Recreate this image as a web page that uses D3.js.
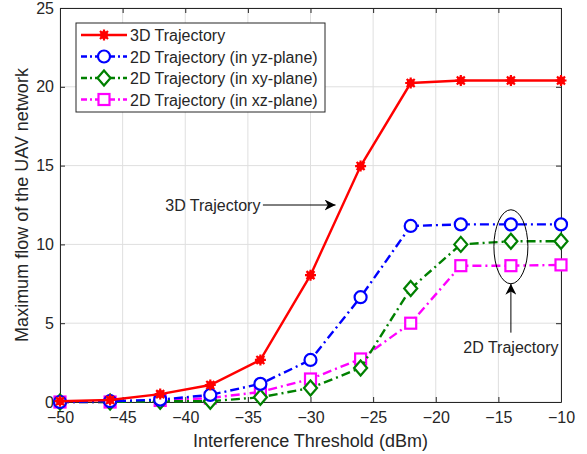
<!DOCTYPE html>
<html>
<head>
<meta charset="utf-8">
<script src="https://cdn.jsdelivr.net/npm/d3@7"></script>
<style>
  body { margin: 0; background: #fff; }
  text { font-family: "Liberation Sans", Arial, sans-serif; fill: #262626; }
</style>
</head>
<body>
<div id="chart"></div>
<script>
// threshold values (dBm)
const thresholds = [-50, -46, -42, -38, -34, -30, -26, -22, -18, -14, -10];
const traj3d = [0.05, 0.13, 0.5, 1.08, 2.67, 8.05, 14.97, 20.24, 20.4, 20.4, 20.4];
const trajYz = [0.0, 0.05, 0.15, 0.45, 1.15, 2.67, 6.65, 11.17, 11.27, 11.27, 11.27];
const trajXy = [0.0, 0.0, 0.05, 0.05, 0.3, 0.89, 2.16, 7.2, 10.0, 10.2, 10.2];
const trajXz = [0.0, 0.0, 0.1, 0.25, 0.64, 1.46, 2.73, 5.0, 8.65, 8.65, 8.7];
const xTicks = [-50, -45, -40, -35, -30, -25, -20, -15, -10];
const yTicks = [0, 5, 10, 15, 20, 25];
const seriesNames = ['3D Trajectory', '2D Trajectory (in yz-plane)',
  '2D Trajectory (in xy-plane)', '2D Trajectory (in xz-plane)'];

const W = 587, H = 454;
const margin = {top: 8, right: 26, bottom: 52, left: 60};
const width = W - margin.left - margin.right;
const height = H - margin.top - margin.bottom;

const svg = d3.select('#chart').append('svg')
    .attr('width', W).attr('height', H);
const g = svg.append('g')
    .attr('transform', 'translate(' + margin.left + ',' + margin.top + ')');

const x = d3.scaleLinear().domain([-50, -10]).range([0, width]);
const y = d3.scaleLinear().domain([0, 25]).range([height, 0]);

// grid
g.selectAll('.vgrid').data(xTicks).enter().append('line')
    .attr('x1', d => x(d)).attr('x2', d => x(d))
    .attr('y1', 0).attr('y2', height)
    .attr('stroke', '#dfdfdf').attr('stroke-width', 1);
g.selectAll('.hgrid').data(yTicks).enter().append('line')
    .attr('x1', 0).attr('x2', width)
    .attr('y1', d => y(d)).attr('y2', d => y(d))
    .attr('stroke', '#dfdfdf').attr('stroke-width', 1);

// axes (ticks inside, box style)
const axisColor = '#262626';
g.append('g').attr('transform', 'translate(0,' + height + ')')
    .call(d3.axisBottom(x).tickValues(xTicks).tickSizeInner(-5).tickSizeOuter(0).tickPadding(10));
g.append('g')
    .call(d3.axisLeft(y).tickValues(yTicks).tickSizeInner(-5).tickSizeOuter(0).tickPadding(6));
g.append('g')
    .call(d3.axisTop(x).tickValues(xTicks).tickSizeInner(-5).tickSizeOuter(0).tickFormat(''));
g.append('g').attr('transform', 'translate(' + width + ',0)')
    .call(d3.axisRight(y).tickValues(yTicks).tickSizeInner(-5).tickSizeOuter(0).tickFormat(''));
g.selectAll('.domain, .tick line').attr('stroke', axisColor);
g.selectAll('.tick text').attr('font-size', 16).attr('fill', axisColor)
    .attr('font-family', '"Liberation Sans", Arial, sans-serif');

svg.append('text')
    .attr('x', margin.left + width / 2).attr('y', 447)
    .attr('text-anchor', 'middle').attr('font-size', 18)
    .text('Interference Threshold (dBm)');
svg.append('text')
    .attr('transform', 'translate(28,' + (margin.top + height / 2) + ') rotate(-90)')
    .attr('text-anchor', 'middle').attr('font-size', 18)
    .text('Maximum flow of the UAV network');

const series = [
  {name: seriesNames[0], values: traj3d, color: '#ff0000', dash: null, marker: 'star'},
  {name: seriesNames[1], values: trajYz, color: '#0000ff', dash: '9,4,2,4', marker: 'circle'},
  {name: seriesNames[2], values: trajXy, color: '#008000', dash: '9,4,2,4', marker: 'diamond'},
  {name: seriesNames[3], values: trajXz, color: '#ff00ff', dash: '9,4,2,4', marker: 'square'}
];

function drawMarker(sel, type, color) {
  if (type === 'circle') {
    sel.append('circle').attr('r', 6)
      .attr('fill', '#fff').attr('stroke', color).attr('stroke-width', 2.2);
  } else if (type === 'diamond') {
    sel.append('path').attr('d', 'M0,-7.5L6.5,0L0,7.5L-6.5,0Z')
      .attr('fill', '#fff').attr('stroke', color).attr('stroke-width', 2.2);
  } else if (type === 'square') {
    sel.append('rect').attr('x', -5.5).attr('y', -5.5).attr('width', 11).attr('height', 11)
      .attr('fill', '#fff').attr('stroke', color).attr('stroke-width', 2.2);
  } else {
    sel.append('circle').attr('r', 4).attr('fill', color);
    sel.append('path').attr('d', 'M-5.5,0H5.5M0,-5.5V5.5M-4,-4L4,4M-4,4L4,-4')
      .attr('stroke', color).attr('stroke-width', 2.2);
  }
}

const line = d3.line().x(d => x(d[0])).y(d => y(d[1]));

// draw in reverse order so 3D is on top
series.slice().reverse().forEach(function(s) {
  const pts = thresholds.map((t, i) => [t, s.values[i]]);
  g.append('path').datum(pts)
    .attr('d', line).attr('fill', 'none')
    .attr('stroke', s.color).attr('stroke-width', 2.4)
    .attr('stroke-dasharray', s.dash);
  pts.forEach(function(p) {
    const m = g.append('g').attr('transform', 'translate(' + x(p[0]) + ',' + y(p[1]) + ')');
    drawMarker(m, s.marker, s.color);
  });
});

// legend
const lg = svg.append('g').attr('transform', 'translate(76,23)');
lg.append('rect').attr('width', 249).attr('height', 89)
  .attr('fill', '#fff').attr('stroke', axisColor).attr('stroke-width', 1);
series.forEach(function(s, i) {
  const ly = 12 + i * 21.5;
  lg.append('line').attr('x1', 5).attr('x2', 51).attr('y1', ly).attr('y2', ly)
    .attr('stroke', s.color).attr('stroke-width', 2.4)
    .attr('stroke-dasharray', s.dash ? '6,3,2,3' : null);
  drawMarker(lg.append('g').attr('transform', 'translate(28,' + ly + ')'), s.marker, s.color);
  lg.append('text').attr('x', 54).attr('y', ly + 6).attr('font-size', 16).text(s.name);
});

// annotations
const defs = svg.append('defs');
defs.append('marker').attr('id', 'arr').attr('viewBox', '0 0 10 10')
  .attr('refX', 10).attr('refY', 5).attr('markerWidth', 11).attr('markerHeight', 11)
  .attr('markerUnits', 'userSpaceOnUse').attr('orient', 'auto')
  .append('path').attr('d', 'M0,0L10,5L0,10L3,5Z').attr('fill', '#000');

g.append('text').attr('x', x(-37.8)).attr('y', y(12.5) + 6)
  .attr('text-anchor', 'middle').attr('font-size', 16).text('3D Trajectory');
g.append('line').attr('x1', x(-33.8)).attr('x2', x(-28)).attr('y1', y(12.5)).attr('y2', y(12.5))
  .attr('stroke', '#000').attr('stroke-width', 1).attr('marker-end', 'url(#arr)');

g.append('ellipse').attr('cx', x(-14)).attr('cy', y(9.85))
  .attr('rx', 17).attr('ry', 37).attr('fill', 'none').attr('stroke', '#000').attr('stroke-width', 1);
g.append('line').attr('x1', x(-14)).attr('x2', x(-14)).attr('y1', y(4.4)).attr('y2', y(7.5))
  .attr('stroke', '#000').attr('stroke-width', 1).attr('marker-end', 'url(#arr)');
g.append('text').attr('x', x(-14)).attr('y', y(3.1))
  .attr('text-anchor', 'middle').attr('font-size', 16).text('2D Trajectory');
</script>
</body>
</html>
